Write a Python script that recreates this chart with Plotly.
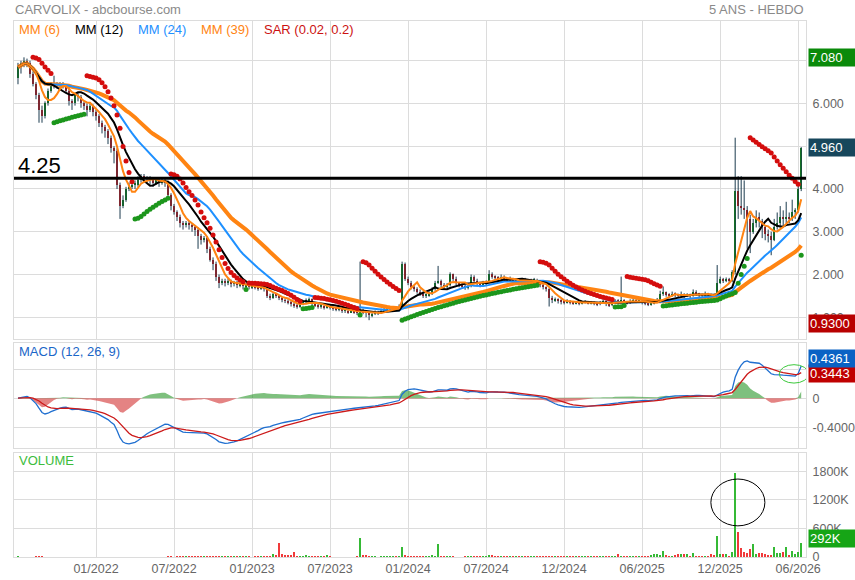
import numpy as np
import pandas as pd
import plotly.graph_objects as go
from plotly.subplots import make_subplots

# weekly closes, one row per half-year (26 weeks) -- last row has 28
close = [
    6.85, 6.95, 7.0, 6.95, 6.7, 6.45, 6.2, 5.85, 5.7, 6.0, 6.3, 6.45, 6.45, 6.4, 6.45, 6.4, 6.3, 6.05, 6.0, 6.2, 6.15, 6.0, 5.95, 5.85, 5.95, 5.8,
    5.7, 5.55, 5.45, 5.35, 5.2, 4.95, 4.9, 4.1, 3.6, 3.75, 4.0, 4.05, 4.1, 4.1, 4.2, 4.3, 4.25, 4.25, 4.2, 4.15, 4.2, 4.15, 4.2, 4.15, 3.85, 3.6,
    3.45, 3.35, 3.2, 3.15, 3.2, 3.15, 3.1, 3.05, 2.9, 2.8, 2.85, 2.6, 2.35, 2.25, 1.95, 1.8, 1.85, 1.8, 1.85, 1.78, 1.8, 1.75, 1.78, 1.72, 1.75, 1.7,
    1.72, 1.7, 1.68, 1.7, 1.65, 1.5, 1.45, 1.55, 1.5, 1.45, 1.4, 1.38, 1.35, 1.3, 1.28, 1.25, 1.3, 1.35, 1.4, 1.42, 1.3, 1.28, 1.25, 1.25, 1.22, 1.25,
    1.22, 1.2, 1.18, 1.2, 1.15, 1.15, 1.12, 1.15, 1.12, 1.1, 1.15, 1.12, 1.1, 1.05, 1.08, 1.12, 1.1, 1.15, 1.18, 1.2, 1.2, 1.22, 1.2, 1.25, 2.25, 1.9,
    1.8, 1.7, 1.65, 1.6, 1.55, 1.5, 1.5, 1.55, 1.65, 1.8, 1.85, 1.75, 1.7, 1.75, 2.0, 1.9, 1.8, 1.75, 1.72, 1.7, 1.72, 1.95, 1.85, 1.78, 1.75, 1.8,
    1.82, 2.0, 1.95, 1.92, 1.9, 1.95, 1.9, 1.88, 1.9, 1.85, 1.85, 1.8, 1.88, 1.85, 1.82, 1.85, 1.88, 1.82, 1.75, 1.7, 1.65, 1.45, 1.4, 1.42, 1.38, 1.36,
    1.35, 1.38, 1.35, 1.33, 1.35, 1.32, 1.35, 1.36, 1.33, 1.35, 1.32, 1.3, 1.35, 1.38, 1.3, 1.28, 1.35, 1.38, 1.36, 1.4, 1.35, 1.33, 1.38, 1.4, 1.36, 1.38,
    1.35, 1.33, 1.3, 1.32, 1.35, 1.4, 1.55, 1.58, 1.52, 1.5, 1.55, 1.52, 1.5, 1.55, 1.5, 1.52, 1.5, 1.6, 1.55, 1.52, 1.5, 1.55, 1.52, 1.5, 1.48, 1.8,
    1.9, 1.85, 1.88, 1.85, 2.05, 3.95, 3.6, 3.55, 3.5, 3.3, 3.0, 3.2, 3.35, 3.25, 3.1, 2.95, 2.9, 2.8, 3.1, 3.2, 3.35, 3.3, 3.35, 3.3, 3.45, 3.5, 4.0, 4.96,
]
high = [
    6.95, 7.0, 7.08, 7.05, 7.0, 6.75, 6.5, 6.25, 5.95, 6.05, 6.35, 6.5, 6.65, 6.5, 6.5, 6.5, 6.45, 6.35, 6.1, 6.25, 6.25, 6.2, 6.05, 6.0, 6.0, 5.98,
    5.85, 5.75, 5.6, 5.5, 5.4, 5.25, 5.0, 4.95, 4.15, 3.85, 4.05, 4.15, 4.15, 4.2, 4.3, 4.35, 4.35, 4.3, 4.3, 4.25, 4.25, 4.25, 4.25, 4.25, 4.2, 3.9,
    3.65, 3.5, 3.4, 3.25, 3.25, 3.25, 3.2, 3.15, 3.1, 2.95, 2.9, 2.9, 2.65, 2.4, 2.3, 2.0, 1.9, 1.9, 1.9, 1.88, 1.85, 1.85, 1.82, 1.8, 1.8, 1.78,
    1.78, 1.76, 1.74, 1.75, 1.72, 1.66, 1.55, 1.58, 1.56, 1.52, 1.48, 1.44, 1.42, 1.38, 1.35, 1.32, 1.33, 1.38, 1.44, 1.46, 1.44, 1.34, 1.32, 1.3, 1.28, 1.3,
    1.28, 1.25, 1.24, 1.24, 1.22, 1.2, 1.18, 1.2, 1.18, 1.16, 2.3, 1.2, 1.16, 1.12, 1.12, 1.16, 1.15, 1.2, 1.22, 1.25, 1.26, 1.26, 1.25, 1.3, 2.3, 2.28,
    1.95, 1.85, 1.75, 1.7, 1.65, 1.6, 1.56, 1.6, 1.7, 1.85, 2.2, 1.88, 1.8, 1.8, 2.05, 2.02, 1.95, 1.82, 1.8, 1.76, 1.76, 2.0, 1.98, 1.9, 1.82, 1.85,
    1.86, 2.1, 2.05, 1.98, 1.96, 2.0, 1.98, 1.93, 1.95, 1.92, 1.9, 1.88, 1.92, 1.92, 1.88, 1.9, 1.92, 1.9, 1.85, 1.78, 1.72, 1.68, 1.5, 1.46, 1.44, 1.42,
    1.4, 1.42, 1.4, 1.38, 1.38, 1.37, 1.38, 1.4, 1.38, 1.38, 1.37, 1.35, 1.38, 1.42, 1.4, 1.33, 1.38, 1.42, 1.42, 1.95, 1.42, 1.38, 1.42, 1.44, 1.43, 1.42,
    1.42, 1.38, 1.35, 1.36, 1.38, 1.45, 1.62, 1.72, 1.6, 1.56, 1.6, 1.58, 1.55, 1.6, 1.56, 1.56, 1.55, 1.65, 1.63, 1.57, 1.55, 1.6, 1.57, 1.55, 1.53, 2.22,
    1.95, 1.92, 1.93, 1.92, 2.1, 5.2, 4.3, 4.3, 4.2, 3.6, 3.4, 3.3, 3.5, 3.45, 3.3, 3.15, 3.05, 3.0, 3.3, 3.45, 3.6, 3.5, 3.7, 3.45, 3.75, 3.55, 4.1, 4.98,
]
low = [
    6.45, 6.7, 6.85, 6.85, 6.6, 6.4, 6.1, 5.55, 5.55, 5.65, 5.95, 6.25, 6.35, 6.35, 6.35, 6.35, 6.25, 5.95, 5.85, 5.95, 6.05, 5.9, 5.85, 5.7, 5.8, 5.7,
    5.6, 5.45, 5.3, 5.2, 5.05, 4.85, 4.6, 4.0, 3.3, 3.55, 3.7, 3.95, 4.0, 4.0, 4.05, 4.15, 4.15, 4.15, 4.1, 4.05, 4.1, 4.05, 4.1, 4.05, 3.8, 3.5,
    3.4, 3.25, 3.1, 3.05, 3.1, 3.05, 3.0, 2.9, 2.6, 2.7, 2.75, 2.5, 2.3, 2.1, 1.85, 1.68, 1.75, 1.72, 1.75, 1.7, 1.72, 1.68, 1.7, 1.65, 1.68, 1.65,
    1.66, 1.65, 1.62, 1.64, 1.6, 1.45, 1.4, 1.43, 1.45, 1.4, 1.35, 1.33, 1.3, 1.25, 1.22, 1.2, 1.22, 1.28, 1.33, 1.36, 1.26, 1.24, 1.2, 1.2, 1.18, 1.2,
    1.18, 1.15, 1.14, 1.14, 1.1, 1.1, 1.08, 1.1, 1.08, 1.05, 1.08, 1.07, 1.0, 0.93, 1.0, 1.05, 1.05, 1.08, 1.12, 1.15, 1.15, 1.17, 1.15, 1.18, 1.22, 1.85,
    1.75, 1.65, 1.6, 1.55, 1.5, 1.45, 1.45, 1.48, 1.52, 1.62, 1.78, 1.7, 1.65, 1.68, 1.72, 1.85, 1.75, 1.7, 1.66, 1.64, 1.65, 1.7, 1.8, 1.72, 1.7, 1.72,
    1.76, 1.8, 1.9, 1.86, 1.85, 1.88, 1.85, 1.82, 1.84, 1.8, 1.8, 1.75, 1.78, 1.8, 1.78, 1.8, 1.82, 1.78, 1.7, 1.65, 1.6, 1.25, 1.33, 1.36, 1.32, 1.3,
    1.3, 1.32, 1.3, 1.29, 1.3, 1.28, 1.3, 1.32, 1.3, 1.3, 1.28, 1.26, 1.28, 1.33, 1.26, 1.24, 1.26, 1.32, 1.32, 1.34, 1.32, 1.3, 1.31, 1.35, 1.33, 1.33,
    1.3, 1.28, 1.26, 1.27, 1.3, 1.33, 1.38, 1.5, 1.48, 1.45, 1.48, 1.47, 1.45, 1.48, 1.45, 1.47, 1.45, 1.48, 1.5, 1.47, 1.45, 1.48, 1.47, 1.45, 1.43, 1.46,
    1.78, 1.8, 1.82, 1.8, 1.82, 2.0, 3.3, 3.4, 3.3, 2.6, 2.5, 2.95, 3.1, 3.1, 2.85, 2.8, 2.75, 2.45, 2.78, 3.05, 3.1, 3.15, 3.2, 3.2, 3.25, 3.3, 3.45, 3.95,
]
# weekly volume, thousands of shares
volume_k = [
    8, 6, 5, 4, 6, 5, 7, 8, 9, 6, 5, 4, 3, 4, 5, 6, 4, 5, 6, 5, 4, 3, 4, 5, 4, 3,
    4, 5, 3, 4, 5, 6, 4, 5, 6, 4, 3, 4, 5, 4, 3, 4, 5, 3, 4, 3, 4, 5, 6, 5, 7, 8,
    6, 8, 7, 9, 8, 10, 25, 30, 18, 35, 20, 22, 15, 12, 10, 9, 8, 10, 9, 8, 7, 8, 9, 10, 8, 7,
    6, 8, 10, 12, 15, 20, 30, 65, 50, 310, 70, 45, 55, 40, 105, 30, 25, 35, 50, 15, 20, 12, 15, 10, 14, 40,
    8, 6, 5, 4, 6, 5, 4, 5, 6, 8, 400, 50, 40, 15, 10, 8, 6, 8, 10, 12, 25, 30, 28, 20, 210, 50,
    20, 15, 30, 25, 20, 10, 30, 35, 40, 30, 270, 15, 25, 12, 8, 10, 6, 5, 6, 8, 20, 12, 10, 8, 9, 10,
    12, 50, 40, 15, 10, 8, 12, 10, 8, 9, 10, 8, 10, 12, 9, 8, 10, 12, 15, 20, 25, 30, 12, 10, 8, 9,
    10, 8, 12, 9, 10, 8, 12, 10, 9, 12, 15, 10, 8, 12, 10, 15, 12, 10, 70, 30, 12, 15, 10, 12, 10, 15,
    12, 10, 15, 40, 60, 80, 50, 130, 40, 35, 30, 40, 65, 70, 60, 70, 30, 100, 30, 20, 25, 30, 20, 60, 55, 450,
    70, 60, 80, 30, 110, 1780, 530, 200, 110, 100, 170, 280, 80, 90, 100, 60, 50, 40, 225, 100, 100, 120, 210, 50, 140, 70, 110, 292,
]
first_open = 6.6

tick_weeks = [26, 52, 78, 104, 130, 156, 182, 208, 234, 260]
tick_labels = ["01/2022", "07/2022", "01/2023", "07/2023", "01/2024",
               "07/2024", "12/2024", "06/2025", "12/2025", "06/2026"]
price_ticks = [1, 2, 3, 4, 5, 6, 7]
macd_ticks = [-0.4, 0, 0.4]
macd_tick_text = ["-0.4000", "0", "0.4000"]
volume_ticks = [0, 600, 1200, 1800]
volume_tick_text = ["0", "600K", "1200K", "1800K"]
resistance = 4.25
macd_last = 0.4361
signal_last = 0.3443

FONT = "Liberation Sans, Arial, sans-serif"
GRID = "#dcdcdc"
UP = "#138a13"
DOWN = "#dd1515"
WICK = "#1b3a4e"
ORANGE = "#ff8412"
BLUE = "#1e90ff"


def parabolic_sar(hi, lo, step=0.02, cap=0.2):
    sar = np.zeros(len(hi))
    trend = np.ones(len(hi), dtype=int)
    up = True
    af, ep = step, hi[0]
    sar[0] = lo[0]
    for i in range(1, len(hi)):
        s = sar[i - 1] + af * (ep - sar[i - 1])
        if up:
            if lo[i] < s:
                up, s, ep, af = False, ep, lo[i], step
            elif hi[i] > ep:
                ep, af = hi[i], min(af + step, cap)
        else:
            if hi[i] > s:
                up, s, ep, af = True, ep, hi[i], step
            elif lo[i] < ep:
                ep, af = lo[i], min(af + step, cap)
        sar[i] = s
        trend[i] = 1 if up else -1
    return sar, trend


n = len(close)
x = np.arange(n)
c = pd.Series(close, dtype=float)
o = c.shift(1).fillna(first_open)
rising = c >= o
candle_colors = np.where(rising, UP, DOWN)

# indicators
ma = {p: c.rolling(p, min_periods=1).mean() for p in (6, 12, 24, 39)}
ema12 = c.ewm(span=12, adjust=False).mean()
ema26 = c.ewm(span=26, adjust=False).mean()
macd = ema12 - ema26
signal = macd.ewm(span=9, adjust=False).mean()
hist = macd - signal
sar, trend = parabolic_sar(high, low)
start = int(np.argmax(trend != trend[0]))  # skip the warm-up before first reversal

fig = make_subplots(rows=3, cols=1, shared_xaxes=True, vertical_spacing=0.01)

# candles: dark wicks + coloured bodies
wick_x, wick_y = [], []
for i in range(n):
    wick_x += [i, i, None]
    wick_y += [low[i], high[i], None]
fig.add_trace(go.Scatter(x=wick_x, y=wick_y, mode="lines",
                         line=dict(color=WICK, width=1), hoverinfo="skip"), row=1, col=1)
fig.add_trace(go.Bar(x=x, y=np.maximum((c - o).abs(), 0.02), base=np.minimum(o, c),
                     width=0.66, marker=dict(color=candle_colors, line_width=0)), row=1, col=1)

fig.add_trace(go.Scatter(x=x, y=ma[39], mode="lines", line=dict(color=ORANGE, width=4)), row=1, col=1)
fig.add_trace(go.Scatter(x=x, y=ma[24], mode="lines", line=dict(color=BLUE, width=2)), row=1, col=1)
fig.add_trace(go.Scatter(x=x, y=ma[12], mode="lines", line=dict(color="black", width=2)), row=1, col=1)
fig.add_trace(go.Scatter(x=x, y=ma[6], mode="lines", line=dict(color=ORANGE, width=2)), row=1, col=1)

sar_up = [s if (t > 0 and i >= start) else None for i, (s, t) in enumerate(zip(sar, trend))]
sar_dn = [s if (t < 0 and i >= start) else None for i, (s, t) in enumerate(zip(sar, trend))]
fig.add_trace(go.Scatter(x=x, y=sar_up, mode="markers",
                         marker=dict(color="#1c961c", size=5)), row=1, col=1)
fig.add_trace(go.Scatter(x=x, y=sar_dn, mode="markers",
                         marker=dict(color="#d40d0d", size=5)), row=1, col=1)

# MACD panel
fig.add_trace(go.Scatter(x=x, y=hist.clip(lower=0), mode="lines", line=dict(width=0),
                         fill="tozeroy", fillcolor="rgba(20,140,20,0.55)"), row=2, col=1)
fig.add_trace(go.Scatter(x=x, y=hist.clip(upper=0), mode="lines", line=dict(width=0),
                         fill="tozeroy", fillcolor="rgba(205,30,30,0.55)"), row=2, col=1)
fig.add_trace(go.Scatter(x=x, y=macd, mode="lines", line=dict(color="#1f6fd0", width=1.3)), row=2, col=1)
fig.add_trace(go.Scatter(x=x, y=signal, mode="lines", line=dict(color="#cc1a1a", width=1.3)), row=2, col=1)

# volume panel
vol_colors = np.where(rising, "#35b935", "#f03a3a")
fig.add_trace(go.Bar(x=x, y=volume_k, width=0.6, marker=dict(color=vol_colors, line_width=0)),
              row=3, col=1)

fig.update_layout(
    width=855, height=580,
    margin=dict(l=14, r=49, t=21, b=23, autoexpand=False),
    paper_bgcolor="white", plot_bgcolor="white",
    showlegend=False, bargap=0,
    font=dict(family=FONT, size=13, color="#666666"),
)
axis_style = dict(showgrid=True, gridcolor=GRID, gridwidth=1, showline=True, mirror=True,
                  linecolor=GRID, zeroline=False, ticks="", automargin=False,
                  tickfont=dict(size=12.5, color="#666666"))
fig.update_xaxes(range=[-1.33, 262.6], tickvals=tick_weeks, ticktext=tick_labels, **axis_style)
fig.update_layout(
    yaxis=dict(domain=[0.4067, 1], range=[0.49, 7.93], side="right", tickvals=price_ticks,
               ticktext=[f"{v:.3f}" for v in price_ticks], ticklabelstandoff=3, **axis_style),
    yaxis2=dict(domain=[0.2028, 0.3987], range=[-0.69, 0.754], side="right", tickvals=macd_ticks,
                ticktext=macd_tick_text, ticklabelstandoff=3, **axis_style),
    yaxis3=dict(domain=[0, 0.1946], range=[0, 2190], side="right", tickvals=volume_ticks,
                ticktext=volume_tick_text, ticklabelstandoff=3, **axis_style),
)

# resistance line
fig.add_shape(type="line", xref="paper", x0=0, x1=1, yref="y", y0=resistance, y1=resistance,
              line=dict(color="black", width=3))
fig.add_annotation(xref="paper", x=0.002, xanchor="left", yref="y", y=resistance, yanchor="middle",
                   yshift=13, text=f"{resistance:.2f}", showarrow=False,
                   font=dict(size=22, color="black", family=FONT))

# highlight ellipses
fig.add_shape(type="circle", xref="x2", yref="y2", x0=253.7, x1=263.5, y0=0.207, y1=0.46,
              line=dict(color="#3cc83c", width=1))
fig.add_shape(type="circle", xref="x3", yref="y3", x0=230.9, x1=248.9, y0=654, y1=1637,
              line=dict(color="black", width=1))

# header texts
fig.add_annotation(xref="paper", x=0, xanchor="left", xshift=-1, yref="paper", y=1, yanchor="middle",
                   yshift=12, text="CARVOLIX - abcbourse.com", showarrow=False,
                   font=dict(size=13, color="#8a8a8a"))
fig.add_annotation(xref="paper", x=1, xanchor="right", yref="paper", y=1, yanchor="middle",
                   yshift=12, text="5 ANS - HEBDO", showarrow=False,
                   font=dict(size=13, color="#8a8a8a"))

legend_items = [("MM (6)", ORANGE, 19), ("MM (12)", "black", 75), ("MM (24)", BLUE, 138),
                ("MM (39)", ORANGE, 201), ("SAR (0.02, 0.2)", "#cc1111", 264)]
for label, color, px in legend_items:
    fig.add_annotation(xref="paper", x=(px - 16) / 792, xanchor="left", yref="paper", y=1,
                       yanchor="middle", yshift=-8, text=label, showarrow=False,
                       font=dict(size=13, color=color))
fig.add_annotation(xref="paper", x=(19 - 16) / 792, xanchor="left", yref="paper", y=0.3987,
                   yanchor="middle", yshift=-8.5, text="MACD (12, 26, 9)", showarrow=False,
                   font=dict(size=13, color="#1a66c8"))
fig.add_annotation(xref="paper", x=(19 - 16) / 792, xanchor="left", yref="paper", y=0.1946,
                   yanchor="middle", yshift=-7.5, text="VOLUME", showarrow=False,
                   font=dict(size=13, color="#3cbc3c"))


def value_box(text, y, yref, bg, yshift=0):
    fig.add_annotation(xref="paper", x=1, xanchor="left", xshift=2, yref=yref, y=y,
                       yanchor="middle", yshift=yshift, text=text, showarrow=False,
                       bgcolor=bg, width=44, align="left", borderpad=1,
                       font=dict(size=13, color="white", family=FONT))


value_box(f"{max(high):.3f}", max(high), "y", "#0a8a0a")
value_box(f"{close[-1]:.3f}", close[-1], "y", "#17475c")
value_box(f"{min(low):.4f}", min(low), "y", "#b80000", yshift=-3)
value_box(f"{signal_last:.4f}", signal_last, "y2", "#c00000")
value_box(f"{macd_last:.4f}", macd_last, "y2", "#0a62c4", yshift=8)
value_box(f"{volume_k[-1]}K", volume_k[-1], "y3", "#16a516", yshift=5)

# the page body has a default 8px margin; drop it so the chart sits at the window origin
fig.write_html("out.html", config={"displayModeBar": False},
               post_script="document.body.style.margin='0';")
